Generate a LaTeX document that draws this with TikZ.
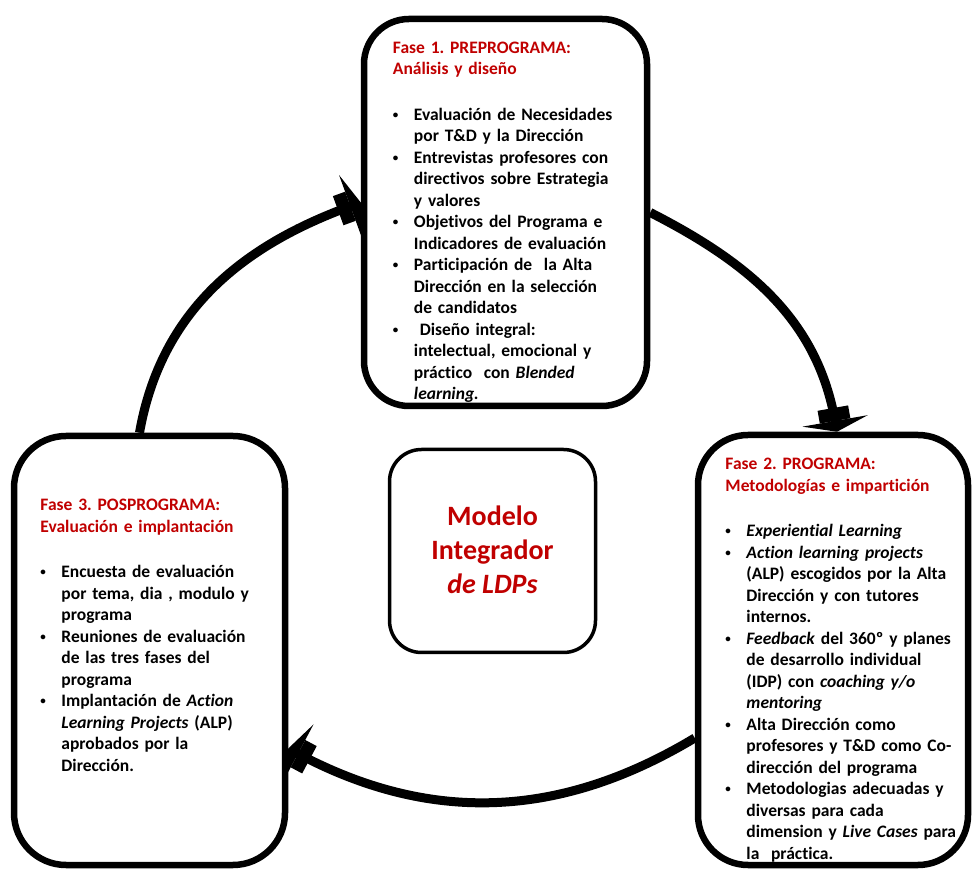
\documentclass[tikz,border=0pt]{standalone}
\usepackage{fontspec}
\setmainfont{Carlito}[Ligatures=NoCommon]
\usetikzlibrary{arrows.meta}
\definecolor{faseRed}{HTML}{C00000}
\frenchspacing
\newcommand{\fasefont}{\fontsize{17.5}{21.5}\selectfont\bfseries}
\newcommand{\fasebullet}{\raisebox{2pt}{\fontsize{11}{11}\selectfont\textbullet}}
\newcommand{\fasetitle}[1]{{\color{faseRed}#1\par}\vspace{24pt}}
\newenvironment{faselist}{\begin{list}{\fasebullet}{%
  \setlength{\leftmargin}{21pt}\setlength{\labelwidth}{15pt}%
  \setlength{\labelsep}{6pt}\setlength{\itemsep}{0pt}%
  \setlength{\parsep}{0pt}\setlength{\topsep}{0pt}%
  \setlength{\partopsep}{0pt}\def\makelabel##1{##1\hfil}}}{\end{list}}
\begin{document}
\begin{tikzpicture}[x=1pt, y=1pt, line join=round,
  fasebox/.style={draw, line width=6.5pt, rounded corners=#1, inner sep=0pt},
  fasebox/.default=45pt,
  fasetext/.style={anchor=north west, inner sep=0pt, text width=260pt, align=left, font=\fasefont},
  cyclearrow/.style={line width=9pt, -{Square[length=13pt,width=31pt,sep=0pt]Triangle[length=11pt,width=66pt]}}]
\useasboundingbox (0,0) rectangle (974,870);
\node[fasebox=45pt, minimum width=283pt, minimum height=387pt] (topbox) at (505.5,657.5) {};
\node[fasebox=52pt, minimum width=271pt, minimum height=429pt] (leftbox) at (149.5,219.5) {};
\node[fasebox=50pt, minimum width=270pt, minimum height=430pt] (rightbox) at (833,220) {};
\node[draw, line width=3.5pt, rounded corners=32pt, minimum width=206pt, minimum height=203pt] (centerbox) at (492.5,319) {};
\node[font=\fontsize{28}{34}\selectfont\bfseries, text=faseRed, align=center] (modeltext) at ([yshift=1pt]centerbox) {Modelo\\Integrador\\\textit{de LDPs}};
\node[fasetext] (toptext) at ([shift={(32,-26)}]topbox.north west) {%
\fasetitle{Fase 1. PREPROGRAMA:\\Análisis y diseño}
\begin{faselist}
\item Evaluación de Necesidades\\por T\&D y la Dirección
\item Entrevistas profesores con\\directivos sobre Estrategia\\y valores
\item Objetivos del Programa e\\Indicadores de evaluación
\item Participación de\ \ la Alta\\Dirección en la selección\\de candidatos
\item \ Diseño integral:\\intelectual, emocional y\\práctico\ \ con \textit{Blended}\\\textit{learning.}
\end{faselist}};
\node[fasetext] (lefttext) at ([shift={(29.5,-66.5)}]leftbox.north west) {%
\fasetitle{Fase 3. POSPROGRAMA:\\Evaluación e implantación}
\begin{faselist}
\item Encuesta de evaluación\\por tema, dia , modulo y\\programa
\item Reuniones de evaluación\\de las tres fases del\\programa
\item Implantación de \textit{Action}\\\textit{Learning Projects} (ALP)\\aprobados por la\\Dirección.
\end{faselist}};
\node[fasetext] (righttext) at ([shift={(30.5,-26.5)}]rightbox.north west) {%
\fasetitle{Fase 2. PROGRAMA:\\Metodologías e impartición}
\begin{faselist}
\item \textit{Experiential Learning}
\item \textit{Action learning projects}\\(ALP) escogidos por la Alta\\Dirección y con tutores\\internos.
\item \textit{Feedback} del 360º y planes\\de desarrollo individual\\(IDP) con \textit{coaching y/o}\\\textit{mentoring}
\item Alta Dirección como\\profesores y T\&D como Co-\\dirección del programa
\item Metodologias adecuadas y\\diversas para cada\\dimension y \textit{Live Cases} para\\la\ \ práctica.
\end{faselist}};
\path ([xshift=-10pt]leftbox.north) coordinate (s1)
  ([yshift=10pt]topbox.west) coordinate (e1)
  (topbox.east) coordinate (s2)
  ([xshift=4pt]rightbox.north) coordinate (e2)
  ([yshift=-88pt]rightbox.west) coordinate (s3)
  ([yshift=-98pt]leftbox.east) coordinate (e3);
\foreach \s/\e/\o/\i in {s1/e1/80/200, s2/e2/-27/100, s3/e3/211/-28}
\draw[cyclearrow] (\s) to[out=\o, in=\i] (\e);
\end{tikzpicture}
\end{document}
